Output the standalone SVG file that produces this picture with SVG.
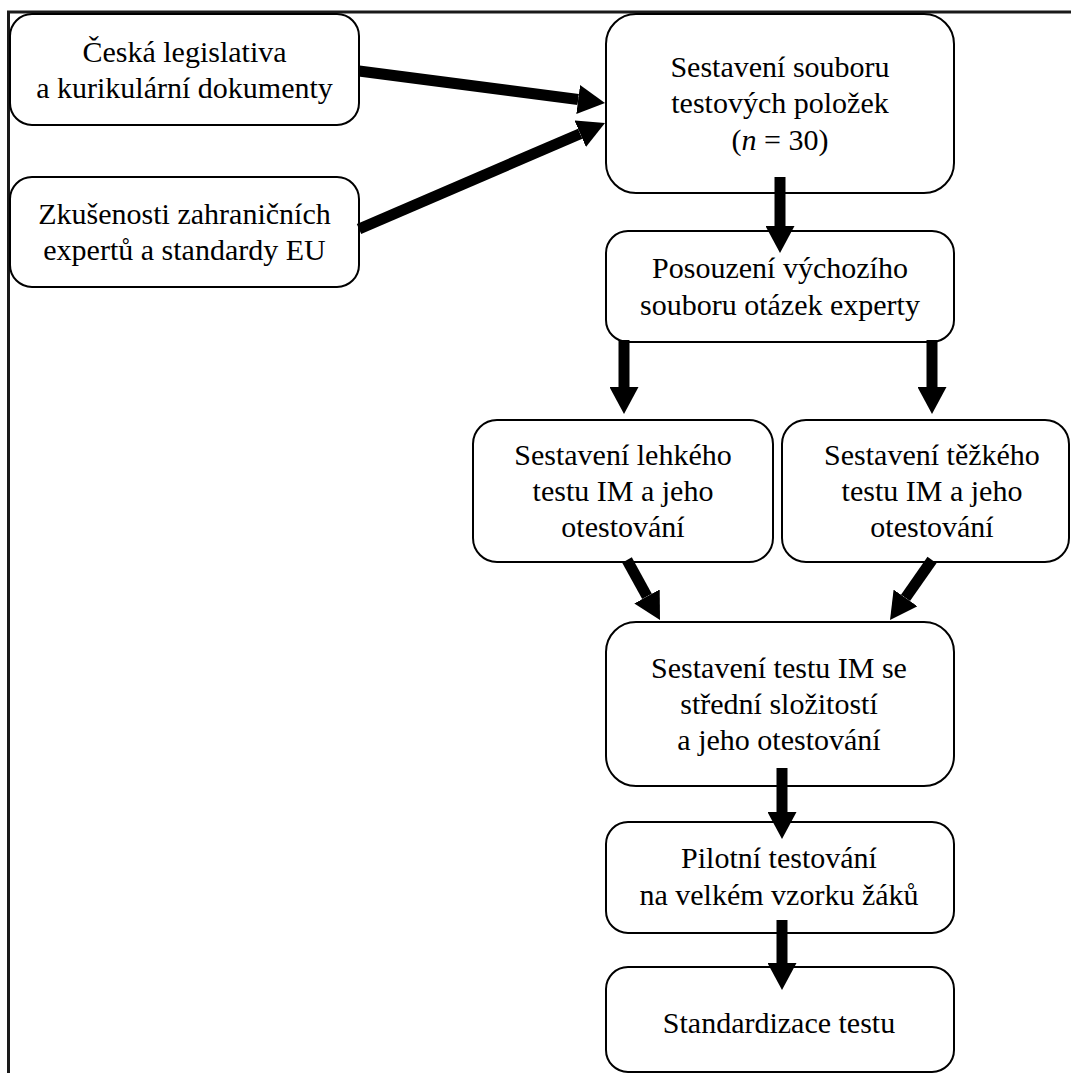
<svg xmlns="http://www.w3.org/2000/svg" width="1071" height="1073" viewBox="0 0 1071 1073">
  <style>
    .box { fill: #ffffff; stroke: #000000; stroke-width: 2; }
    .lbl { font-family: "Liberation Serif", "Times New Roman", serif; font-size: 30px; fill: #000000; text-anchor: middle; }
    .arrow { fill: none; stroke: #000000; stroke-width: 11; stroke-linecap: butt; marker-end: url(#head); }
    .frame { fill: none; stroke: #1a1a1a; stroke-width: 3; }
  </style>
  <defs>
    <marker id="head" viewBox="0 0 27 29" refX="0" refY="14.5" markerWidth="27" markerHeight="29" markerUnits="userSpaceOnUse" orient="auto">
      <path d="M0,0 L27,14.5 L0,29 Z" fill="#000000"/>
    </marker>
  </defs>

  <rect width="1071" height="1073" fill="#ffffff"/>

  <!-- page frame (top and left edges) -->
  <path class="frame" d="M8.5,1073 V12 H1071"/>

  <g id="legislativa">
    <rect class="box" x="10" y="14" width="349" height="111" rx="22"/>
    <text class="lbl" x="184.5" y="62">Česká legislativa</text>
    <text class="lbl" x="184.5" y="98">a kurikulární dokumenty</text>
  </g>

  <g id="zkusenosti">
    <rect class="box" x="10" y="177" width="349" height="110" rx="22"/>
    <text class="lbl" x="184.5" y="224">Zkušenosti zahraničních</text>
    <text class="lbl" x="184.5" y="260">expertů a standardy EU</text>
  </g>

  <g id="soubor">
    <rect class="box" x="606" y="14" width="348" height="179" rx="30"/>
    <text class="lbl" x="780" y="77">Sestavení souboru</text>
    <text class="lbl" x="780" y="113">testových položek</text>
    <text class="lbl" x="780" y="150">(<tspan font-style="italic">n</tspan> = 30)</text>
  </g>

  <g id="posouzeni">
    <rect class="box" x="606" y="231" width="348" height="111" rx="22"/>
    <text class="lbl" x="780" y="278">Posouzení výchozího</text>
    <text class="lbl" x="780" y="315">souboru otázek experty</text>
  </g>

  <g id="lehky">
    <rect class="box" x="473" y="420" width="300" height="142" rx="24"/>
    <text class="lbl" x="623" y="465">Sestavení lehkého</text>
    <text class="lbl" x="623" y="501">testu IM a jeho</text>
    <text class="lbl" x="623" y="537">otestování</text>
  </g>

  <g id="tezky">
    <rect class="box" x="782" y="420" width="287" height="142" rx="24"/>
    <text class="lbl" x="932" y="465">Sestavení těžkého</text>
    <text class="lbl" x="932" y="501">testu IM a jeho</text>
    <text class="lbl" x="932" y="537">otestování</text>
  </g>

  <g id="stredni">
    <rect class="box" x="606" y="622" width="348" height="164" rx="30"/>
    <text class="lbl" x="779" y="678">Sestavení testu IM  se</text>
    <text class="lbl" x="779" y="714">střední složitostí</text>
    <text class="lbl" x="779" y="750">a jeho otestování</text>
  </g>

  <g id="pilotni">
    <rect class="box" x="606" y="822" width="348" height="111" rx="22"/>
    <text class="lbl" x="779" y="868">Pilotní testování</text>
    <text class="lbl" x="779" y="905">na velkém vzorku žáků</text>
  </g>

  <g id="standardizace">
    <rect class="box" x="606" y="967" width="348" height="105" rx="22"/>
    <text class="lbl" x="779" y="1033">Standardizace testu</text>
  </g>

  <g id="connectors">
    <line class="arrow" x1="359" y1="71" x2="578.2" y2="99.5"/>
    <line class="arrow" x1="359" y1="229" x2="580.2" y2="133.7"/>
    <line class="arrow" x1="780" y1="177" x2="780" y2="226"/>
    <line class="arrow" x1="624" y1="340" x2="624" y2="387"/>
    <line class="arrow" x1="932" y1="340" x2="932" y2="387"/>
    <line class="arrow" x1="627" y1="560" x2="647" y2="596.4"/>
    <line class="arrow" x1="932" y1="560" x2="905.5" y2="597.9"/>
    <line class="arrow" x1="782" y1="768" x2="782" y2="812"/>
    <line class="arrow" x1="782" y1="920" x2="782" y2="963"/>
  </g>
</svg>
